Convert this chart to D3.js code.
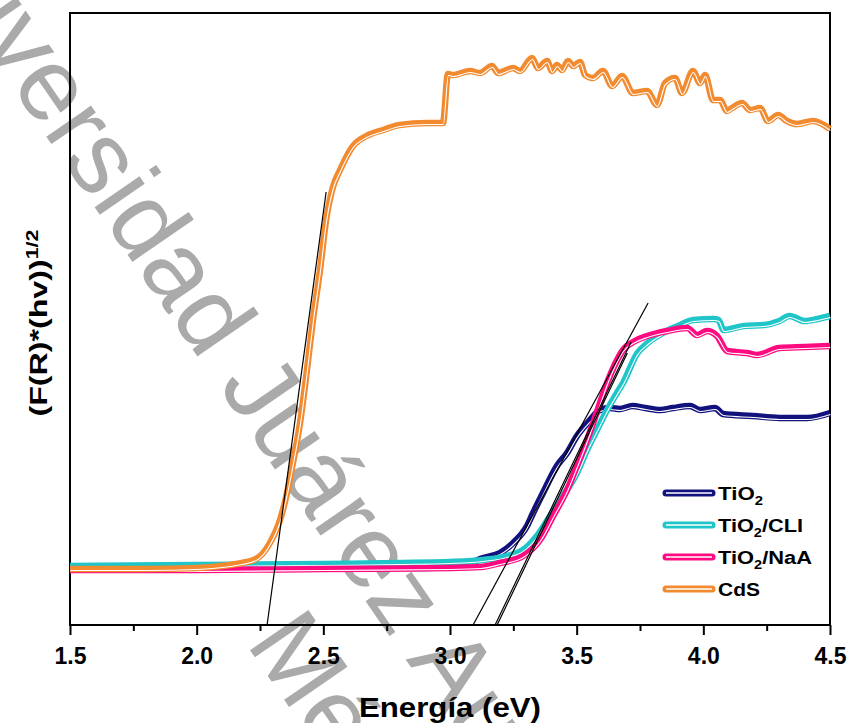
<!DOCTYPE html>
<html>
<head>
<meta charset="utf-8">
<script src="https://cdn.jsdelivr.net/npm/d3@7"></script>
<style>
  body { margin: 0; background: #fff; }
  text { font-family: "Liberation Sans", Arial, sans-serif; }
</style>
</head>
<body>
<svg id="chart" width="852" height="723"></svg>
<script>
// energy (eV) and (F(R)*hv)^1/2 values
const eTiO2 = [1.5, 2.0, 2.5, 2.9, 3.0, 3.07, 3.13, 3.197, 3.249, 3.304, 3.328, 3.367, 3.422, 3.462, 3.501, 3.553, 3.592, 3.632, 3.67, 3.72, 3.77, 3.83, 3.88, 3.947, 3.987, 4.046, 4.078, 4.196, 4.30, 4.41, 4.50];
const vTiO2 = [0.56, 0.56, 0.57, 0.57, 0.58, 0.61, 0.67, 0.72, 0.82, 0.99, 1.12, 1.32, 1.59, 1.72, 1.89, 2.05, 2.15, 2.17, 2.16, 2.19, 2.17, 2.15, 2.17, 2.19, 2.15, 2.17, 2.11, 2.09, 2.07, 2.07, 2.12];

const eCLI = [1.5, 2.0, 2.5, 2.8, 3.0, 3.13, 3.225, 3.288, 3.343, 3.395, 3.446, 3.501, 3.541, 3.58, 3.62, 3.659, 3.683, 3.74, 3.78, 3.84, 3.90, 3.96, 4.04, 4.06, 4.08, 4.16, 4.24, 4.30, 4.34, 4.40, 4.45, 4.50];
const vCLI = [0.59, 0.60, 0.61, 0.62, 0.63, 0.65, 0.69, 0.75, 0.89, 1.09, 1.29, 1.52, 1.75, 1.95, 2.15, 2.32, 2.42, 2.72, 2.82, 2.92, 2.99, 3.05, 3.06, 3.05, 2.95, 2.99, 3.00, 3.04, 3.09, 3.04, 3.06, 3.09];

const eNaA = [1.5, 2.0, 2.5, 3.0, 3.12, 3.197, 3.288, 3.355, 3.407, 3.462, 3.501, 3.541, 3.565, 3.592, 3.62, 3.65, 3.683, 3.73, 3.778, 3.857, 3.936, 3.975, 4.015, 4.054, 4.094, 4.172, 4.212, 4.30, 4.40, 4.50];
const vNaA = [0.55, 0.55, 0.56, 0.57, 0.58, 0.62, 0.69, 0.85, 1.09, 1.35, 1.59, 1.85, 2.02, 2.22, 2.42, 2.60, 2.75, 2.84, 2.89, 2.94, 2.97, 2.90, 2.94, 2.89, 2.74, 2.72, 2.70, 2.77, 2.78, 2.79];

const eCdS = [1.5, 1.8, 2.0, 2.1, 2.155, 2.234, 2.289, 2.329, 2.353, 2.38, 2.408, 2.432, 2.459, 2.487, 2.511, 2.538, 2.566, 2.617, 2.67, 2.736, 2.80, 2.91, 2.972, 2.992,
  3.012, 3.079, 3.118, 3.166, 3.19, 3.249, 3.276, 3.324, 3.347, 3.383, 3.403, 3.422, 3.442, 3.466, 3.486, 3.513, 3.533, 3.564, 3.604, 3.64, 3.679, 3.722, 3.778, 3.817,
  3.849, 3.888, 3.916, 3.959, 3.987, 4.007, 4.038, 4.066, 4.093, 4.113, 4.153, 4.184, 4.224, 4.255, 4.295, 4.33, 4.37, 4.433, 4.50];
const vCdS = [0.56, 0.56, 0.57, 0.59, 0.61, 0.66, 0.82, 1.05, 1.28, 1.62, 2.02, 2.48, 3.05, 3.55, 4.05, 4.38, 4.55, 4.79, 4.89, 4.95, 5.00, 5.02, 5.02, 5.51,
  5.50, 5.54, 5.52, 5.59, 5.52, 5.57, 5.54, 5.67, 5.57, 5.64, 5.54, 5.60, 5.55, 5.64, 5.59, 5.63, 5.50, 5.47, 5.54, 5.39, 5.49, 5.32, 5.34, 5.20,
  5.42, 5.47, 5.32, 5.54, 5.42, 5.50, 5.25, 5.25, 5.14, 5.17, 5.22, 5.15, 5.17, 5.04, 5.10, 5.04, 5.01, 5.04, 4.96];

// tangent lines used for the band gap: [e0, v0, e1, v1]
const tangents = [
  [2.278, 0, 2.511, 4.33],
  [3.091, 0, 3.782, 3.22],
  [3.178, 0, 3.715, 2.83],
  [3.186, 0, 3.700, 2.72]
];

const seriesNames = ["TiO2", "TiO2/CLI", "TiO2/NaA", "CdS"];
const seriesColors = ["#12127f", "#1fc5c8", "#ff0a80", "#f28a30"];
const legendWidths = [45, 85, 94, 42];
const majorTicks = [1.5, 2.0, 2.5, 3.0, 3.5, 4.0, 4.5];
const minorTicks = [1.75, 2.25, 2.75, 3.25, 3.75, 4.25];

let svg = d3.select("#chart"),
    margin = {top: 13, right: 22, bottom: 98, left: 70},
    width = +svg.attr("width") - margin.left - margin.right,
    height = +svg.attr("height") - margin.top - margin.bottom;

// watermark, behind everything
let wm = svg.append("g")
    .attr("transform", "translate(439,708) rotate(55.5)")
    .style("font-family", "'Liberation Sans', Arial, sans-serif")
    .style("font-size", "103px")
    .attr("fill", "#aaaaaa")
    .attr("text-anchor", "middle");
wm.append("text").attr("x", 0).attr("y", 0).text("Universidad Juárez Autónoma de Tabasco");
wm.append("text").attr("x", 0).attr("y", 123).text("México");

let g = svg.append("g").attr("transform", "translate(" + margin.left + "," + margin.top + ")");

let x = d3.scaleLinear().domain([1.5, 4.5]).range([0, width]),
    y = d3.scaleLinear().domain([0, 6.12]).range([height, 0]);

// frame
g.append("rect")
    .attr("x", 0).attr("y", 0)
    .attr("width", width).attr("height", height)
    .attr("fill", "none")
    .attr("stroke", "#000")
    .attr("stroke-width", 2);

// x axis
let xAxis = g.append("g")
    .attr("transform", "translate(0," + height + ")")
    .call(d3.axisBottom(x).tickValues(majorTicks).tickSize(10).tickPadding(13).tickFormat(d3.format(".1f")));
xAxis.select(".domain").remove();
xAxis.selectAll("line").attr("stroke-width", 2);
xAxis.selectAll("text")
    .style("font-family", "'Liberation Sans', Arial, sans-serif")
    .style("font-size", "23px")
    .style("font-weight", "bold")
    .attr("fill", "#000");

let xMinor = g.append("g")
    .attr("transform", "translate(0," + height + ")")
    .call(d3.axisBottom(x).tickValues(minorTicks).tickSize(6).tickFormat(""));
xMinor.select(".domain").remove();
xMinor.selectAll("line").attr("stroke-width", 2);

// curves
let series = [
  {e: eTiO2, v: vTiO2},
  {e: eCLI, v: vCLI},
  {e: eNaA, v: vNaA},
  {e: eCdS, v: vCdS}
];

let line = d3.line()
    .x(function(d) { return x(d[0]); })
    .y(function(d) { return y(d[1]); })
    .curve(d3.curveMonotoneX);

let plot = g.append("g");
series.forEach(function(s, i) {
  let pts = s.e.map(function(e, j) { return [e, s.v[j]]; });
  plot.append("path")
      .datum(pts)
      .attr("fill", "none")
      .attr("stroke", seriesColors[i])
      .attr("stroke-width", 6.5)
      .attr("stroke-linejoin", "round")
      .attr("d", line);
  plot.append("path")
      .datum(pts)
      .attr("fill", "none")
      .attr("stroke", "#fff")
      .attr("stroke-width", 1.1)
      .attr("transform", "translate(0.4,1.5)")
      .attr("d", line);
});

// tangent lines
g.selectAll(".tangent")
    .data(tangents)
    .enter()
    .append("line")
    .attr("class", "tangent")
    .attr("x1", function(d) { return x(d[0]); })
    .attr("y1", function(d) { return y(d[1]); })
    .attr("x2", function(d) { return x(d[2]); })
    .attr("y2", function(d) { return y(d[3]); })
    .attr("stroke", "#000")
    .attr("stroke-width", 1.2);

// legend
let legend = svg.append("g").attr("class", "legend");
let legendY = d3.scalePoint().domain(seriesNames).range([493, 589]);
seriesNames.forEach(function(name, i) {
  let ly = legendY(name);
  legend.append("line")
      .attr("x1", 666).attr("x2", 712)
      .attr("y1", ly).attr("y2", ly)
      .attr("stroke", seriesColors[i])
      .attr("stroke-width", 7)
      .attr("stroke-linecap", "round");
  legend.append("line")
      .attr("x1", 666).attr("x2", 712)
      .attr("y1", ly).attr("y2", ly)
      .attr("stroke", "#fff")
      .attr("stroke-width", 1.4);
  let t = legend.append("text")
      .attr("x", 718)
      .attr("y", ly + 7)
      .style("font-size", "18px")
      .style("font-weight", "bold")
      .attr("textLength", legendWidths[i])
      .attr("lengthAdjust", "spacingAndGlyphs");
  let k = name.indexOf("O2");
  if (k >= 0) {
    t.append("tspan").text(name.slice(0, k + 1));
    t.append("tspan").attr("dy", 5).style("font-size", "12px").text("2");
    if (name.length > k + 2) t.append("tspan").attr("dy", -5).text(name.slice(k + 2));
  } else {
    t.text(name);
  }
});

// axis titles
svg.append("text")
    .attr("x", margin.left + width / 2)
    .attr("y", 717)
    .attr("text-anchor", "middle")
    .style("font-size", "28px")
    .style("font-weight", "bold")
    .attr("textLength", 182)
    .attr("lengthAdjust", "spacingAndGlyphs")
    .text("Energía (eV)");

let yt = svg.append("text")
    .attr("transform", "translate(47,323) rotate(-90)")
    .attr("text-anchor", "middle")
    .style("font-size", "24px")
    .style("font-weight", "bold")
    .attr("textLength", 187)
    .attr("lengthAdjust", "spacingAndGlyphs");
yt.append("tspan").text("(F(R)*(hv))");
yt.append("tspan").attr("dy", -9).style("font-size", "16px").text("1/2");
</script>
</body>
</html>
